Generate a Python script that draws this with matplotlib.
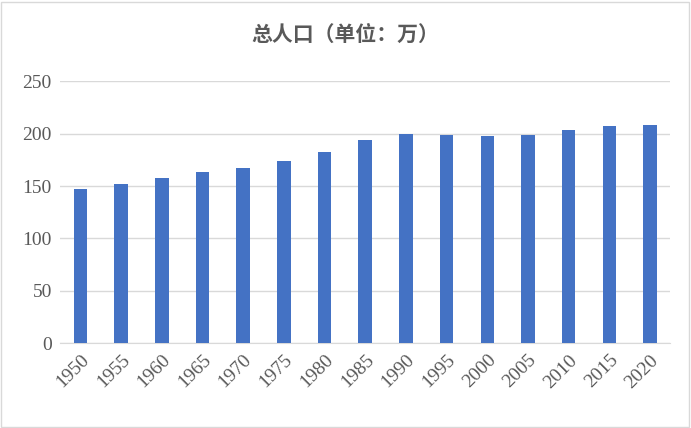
import matplotlib
matplotlib.use('Agg')
import matplotlib.pyplot as plt
from matplotlib.patches import Rectangle

years = ['1950', '1955', '1960', '1965', '1970', '1975', '1980', '1985',
         '1990', '1995', '2000', '2005', '2010', '2015', '2020']
population = [147, 152, 158, 163, 167, 174, 183, 194, 200, 199, 198, 199, 204, 207, 208]
yticks = [0, 50, 100, 150, 200, 250]

fig = plt.figure(figsize=(6.91, 4.28), dpi=100)
ax = fig.add_axes([0.087, 0.198, 0.883, 0.612])

x = range(len(years))
ax.bar(x, population, width=0.33, color='#4472C4', zorder=3)
ax.set_xlim(-0.5, len(years) - 0.5)
ax.set_ylim(0, 250)
ax.set_yticks(yticks)
ax.yaxis.grid(True, color='#D9D9D9', lw=1, zorder=0)
for s in ['top', 'right', 'left']:
    ax.spines[s].set_visible(False)
ax.spines['bottom'].set_color('#D9D9D9')
ax.tick_params(length=0, labelsize=14, colors='#595959', pad=6)
ax.set_xticks(list(x))
ax.set_xticklabels(years, rotation=45, ha='right', rotation_mode='anchor')
for lab in ax.get_xticklabels() + ax.get_yticklabels():
    lab.set_fontfamily('Liberation Serif')

fig.text(0.5, 0.92, '总人口（单位：万）', ha='center', va='center', fontsize=15,
         fontweight='bold', color='#595959', family=['Noto Sans CJK SC', 'DejaVu Sans'])

fig.patches.append(Rectangle((0.002, 0.003), 0.995, 0.993, transform=fig.transFigure,
                             fill=False, edgecolor='#D9D9D9', lw=1))

fig.savefig('out.png', dpi=100)
